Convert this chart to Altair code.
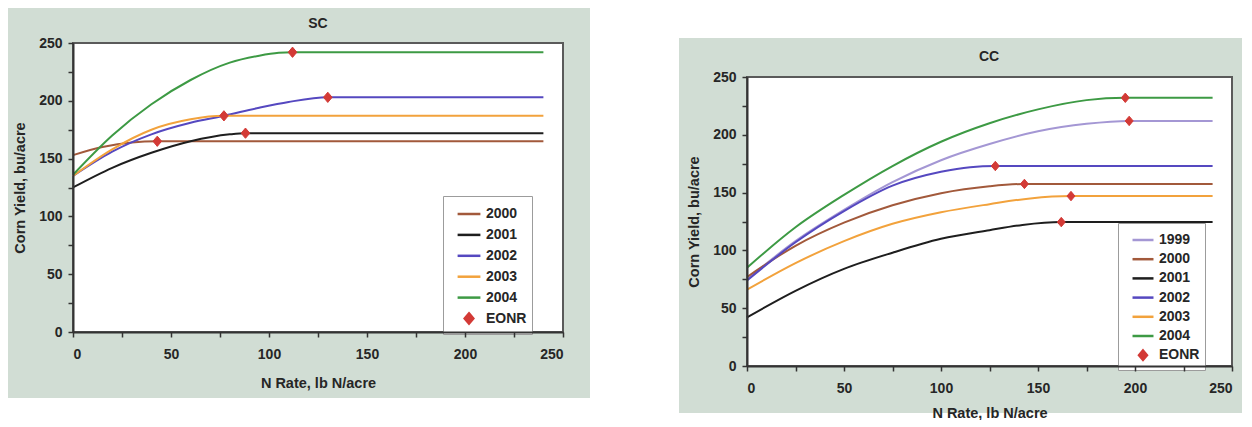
import altair as alt
import pandas as pd

FONT = "Liberation Sans"
TEXT = "#262626"
BG = "#d1ddd4"
RED = "#d33a36"
DIAMOND = "M0,-0.45L0.38,0L0,0.45L-0.38,0Z"

AXIS_TICKS = [0, 25, 50, 75, 100, 125, 150, 175, 200, 225, 250]

# ---------------- SC panel ----------------
SC_SERIES = ["2000", "2001", "2002", "2003", "2004"]
SC_COLORS = ["#a2593b", "#1e1e1e", "#5548c0", "#f2a23c", "#3d9a44"]
SC_2000_X = [0, 15, 30, 43, 240]
SC_2000_Y = [153, 160, 164, 165, 165]
SC_2001_X = [0, 20, 40, 60, 80, 88, 240]
SC_2001_Y = [125, 142, 155, 165, 171, 172, 172]
SC_2002_X = [0, 20, 40, 60, 77, 95, 110, 130, 240]
SC_2002_Y = [135, 156, 171, 181, 187, 194, 199, 203, 203]
SC_2003_X = [0, 20, 40, 60, 77, 240]
SC_2003_Y = [135, 158, 175, 184, 187, 187]
SC_2004_X = [0, 20, 40, 60, 80, 95, 105, 112, 240]
SC_2004_Y = [136, 170, 197, 218, 233, 239, 241.5, 242, 242]
SC_EONR_X = [43, 88, 130, 77, 112]
SC_EONR_Y = [165, 172, 203, 187, 242]

# ---------------- CC panel ----------------
CC_SERIES = ["1999", "2000", "2001", "2002", "2003", "2004"]
CC_COLORS = ["#a497d4", "#a2593b", "#1e1e1e", "#5548c0", "#f2a23c", "#3d9a44"]
CC_1999_X = [0, 25, 50, 75, 100, 125, 150, 175, 197, 240]
CC_1999_Y = [75, 108, 135, 159, 178, 192, 203, 209.5, 212, 212]
CC_2000_X = [0, 25, 50, 75, 100, 125, 143, 240]
CC_2000_Y = [77, 104, 124, 139, 149.5, 155.5, 157.5, 157.5]
CC_2001_X = [0, 25, 50, 75, 100, 125, 142, 162, 240]
CC_2001_Y = [42, 65, 84, 98, 110, 117.5, 122, 124.5, 124.5]
CC_2002_X = [0, 25, 50, 75, 100, 115, 128, 240]
CC_2002_Y = [74, 107, 134, 156, 168, 172, 173, 173]
CC_2003_X = [0, 25, 50, 75, 100, 125, 146, 167, 240]
CC_2003_Y = [66, 89, 108, 123, 133, 140, 145, 147, 147]
CC_2004_X = [0, 25, 50, 75, 100, 125, 150, 175, 195, 240]
CC_2004_Y = [85, 120, 148, 173, 194, 210, 222, 230, 232, 232]
CC_EONR_X = [197, 143, 162, 128, 167, 195]
CC_EONR_Y = [212, 157.5, 124.5, 173, 147, 232]


def lines_frame(series, xs, ys):
    rows = []
    for s, xl, yl in zip(series, xs, ys):
        for x, y in zip(xl, yl):
            rows.append({"series": s, "x": x, "y": y})
    return pd.DataFrame(rows)


def panel(title, title_xy, series, colors, xs, ys, ex, ey, width, top, plot_h,
          bg_box, legend_xy, sym_size, row_pad, lab_pad, ttl_pad):
    h = top + plot_h
    xscale = alt.Scale(domain=[0, 250], nice=False)
    yscale = alt.Scale(domain=[0, 250], range=[h, top], nice=False)
    common = dict(
        values=AXIS_TICKS,
        labelExpr="datum.value % 50 === 0 ? datum.label : ''",
        domainColor="#333333", domainWidth=2,
        tickColor="#333333", tickWidth=1.5, tickSize=5,
        labelFont=FONT, labelFontSize=14, labelFontWeight="bold", labelColor=TEXT,
        titleFont=FONT, titleFontSize=14.5, titleFontWeight="bold", titleColor=TEXT,
        grid=False, zindex=1,
    )
    xaxis = alt.Axis(title="N Rate, lb N/acre", labelPadding=lab_pad,
                     titlePadding=ttl_pad, **common)
    yaxis = alt.Axis(title="Corn Yield, bu/acre", labelPadding=6,
                     titlePadding=11, **common)

    legend = alt.Legend(
        orient="none", legendX=legend_xy[0], legendY=legend_xy[1], title=None,
        fillColor="white", strokeColor="#9c9c9c", padding=5,
        rowPadding=row_pad, symbolSize=sym_size, symbolOffset=8,
        symbolStrokeWidth=2.5, symbolFillColor="transparent",
        symbolStrokeColor="#888888", labelOffset=4,
        labelFont=FONT, labelFontSize=14, labelFontWeight="bold", labelColor=TEXT,
    )
    dom = series + ["EONR"]
    stroke_scale = alt.Scale(domain=dom, range=colors + [RED])
    fill_scale = alt.Scale(domain=dom, range=["transparent"] * len(series) + [RED])
    shape_scale = alt.Scale(domain=dom, range=["stroke"] * len(series) + [DIAMOND])

    one = alt.Data(values=[{"k": 1}])
    bx1, bx2, by1, by2 = bg_box
    bg = alt.Chart(one).mark_rect(color=BG).encode(
        x=alt.value(bx1), x2=alt.value(bx2), y=alt.value(by1), y2=alt.value(by2))
    frame = alt.Chart(one).mark_rect(fill="white", stroke="#5a5a5a", strokeWidth=2).encode(
        x=alt.value(0), x2=alt.value(width), y=alt.value(top), y2=alt.value(h))

    ldf = lines_frame(series, xs, ys)
    lines = alt.Chart(ldf).mark_line(strokeWidth=2, interpolate="monotone").encode(
        x=alt.X("x:Q", scale=xscale, axis=xaxis),
        y=alt.Y("y:Q", scale=yscale, axis=yaxis),
        stroke=alt.Stroke("series:N", scale=stroke_scale, legend=legend),
        order="x:Q",
    )
    edf = pd.DataFrame({"x": ex, "y": ey, "series": ["EONR"] * len(ex)})
    pts = alt.Chart(edf).mark_point(size=sym_size, opacity=1, strokeWidth=1).encode(
        x=alt.X("x:Q", scale=xscale, axis=xaxis),
        y=alt.Y("y:Q", scale=yscale, axis=yaxis),
        stroke=alt.Stroke("series:N", scale=stroke_scale, legend=legend),
        fill=alt.Fill("series:N", scale=fill_scale, legend=legend),
        shape=alt.Shape("series:N", scale=shape_scale, legend=legend),
    )

    ttl = alt.Chart(one).mark_text(font=FONT, fontSize=14, fontWeight="bold",
                                   color=TEXT, align="center", baseline="middle").encode(
        x=alt.value(title_xy[0]), y=alt.value(title_xy[1]), text=alt.value(title))

    return alt.layer(bg, frame, lines, pts, ttl).properties(width=width, height=h)


left = panel("SC", (245, -19), SC_SERIES, SC_COLORS,
             [SC_2000_X, SC_2001_X, SC_2002_X, SC_2003_X, SC_2004_X],
             [SC_2000_Y, SC_2001_Y, SC_2002_Y, SC_2003_Y, SC_2004_Y],
             SC_EONR_X, SC_EONR_Y, width=490, top=0, plot_h=289,
             bg_box=(-65, 517, -35, 355), legend_xy=(370, 153),
             sym_size=520, row_pad=0.9, lab_pad=10, ttl_pad=15)

right = panel("CC", (242, 14), CC_SERIES, CC_COLORS,
              [CC_1999_X, CC_2000_X, CC_2001_X, CC_2002_X, CC_2003_X, CC_2004_X],
              [CC_1999_Y, CC_2000_Y, CC_2001_Y, CC_2002_Y, CC_2003_Y, CC_2004_Y],
              CC_EONR_X, CC_EONR_Y, width=485, top=34, plot_h=289,
              bg_box=(-68, 495, -5, 370), legend_xy=(371, 180),
              sym_size=440, row_pad=0.2, lab_pad=10, ttl_pad=11)

chart = alt.hconcat(left, right, spacing=89, padding=0, background="white").resolve_scale(
    stroke="independent", fill="independent", shape="independent").configure_view(strokeWidth=0)

chart.save("out.html", embed_options={"renderer": "svg", "actions": False})
